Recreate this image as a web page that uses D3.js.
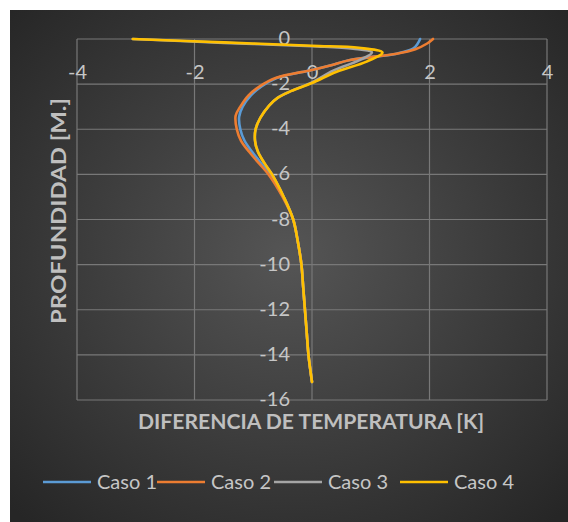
<!DOCTYPE html>
<html><head><meta charset="utf-8">
<script src="https://cdn.jsdelivr.net/npm/d3@7"></script>
<style>
html,body{margin:0;padding:0;background:#fff;}
svg{display:block;}
text{font-family:Lato,"Open Sans",sans-serif;}
</style></head>
<body>
<svg id="chart" width="568" height="522"></svg>
<script>
// ---- data ----
const xTicks = [-4, -2, 0, 2, 4];
const yTicks = [0, -2, -4, -6, -8, -10, -12, -14, -16];
const seriesNames = ["Caso 1", "Caso 2", "Caso 3", "Caso 4"];
const seriesColors = ["#5B9BD5", "#ED7D31", "#A5A5A5", "#FFC000"];

const depthCaso1 = [0, -0.2, -0.43, -0.65, -0.93, -1.17, -1.37, -1.73, -2.1, -2.5, -3.0, -3.45, -4.0, -4.5, -5.0, -5.4, -6.0, -7.0, -8.0, -9.0, -10, -11, -12, -13, -14, -15.2];
const tempCaso1  = [1.84, 1.8, 1.72, 1.44, 0.65, 0.31, 0.0, -0.6, -0.86, -1.04, -1.18, -1.24, -1.22, -1.15, -1.02, -0.9, -0.72, -0.49, -0.32, -0.24, -0.18, -0.15, -0.12, -0.09, -0.06, 0.0];

const depthCaso2 = [0, -0.2, -0.45, -0.65, -0.93, -1.17, -1.37, -1.73, -2.1, -2.5, -3.0, -3.4, -4.0, -4.5, -5.0, -5.4, -6.0, -7.0, -8.0, -9.0, -10, -11, -12, -13, -14, -15.2];
const tempCaso2  = [2.06, 1.96, 1.76, 1.44, 0.65, 0.31, 0.0, -0.62, -0.89, -1.08, -1.22, -1.3, -1.28, -1.21, -1.07, -0.94, -0.74, -0.5, -0.32, -0.24, -0.18, -0.15, -0.12, -0.09, -0.06, 0.0];

const depthCaso3 = [0, -0.17, -0.32, -0.43, -0.6, -0.95, -1.4, -1.92, -2.3, -2.6, -2.95, -3.5, -4.0, -4.5, -5.0, -5.5, -6.0, -7.0, -8.0, -9.0, -10, -11, -12, -13, -14, -15.2];
const tempCaso3  = [-3.05, -1.5, 0.0, 0.7, 1.02, 0.8, 0.36, 0.0, -0.35, -0.58, -0.73, -0.88, -0.96, -0.97, -0.92, -0.81, -0.68, -0.48, -0.32, -0.24, -0.18, -0.15, -0.12, -0.09, -0.06, 0.0];

const depthCaso4 = [0, -0.15, -0.3, -0.39, -0.6, -1.0, -1.45, -1.95, -2.3, -2.6, -2.95, -3.5, -4.0, -4.5, -5.0, -5.5, -6.0, -7.0, -8.0, -9.0, -10, -11, -12, -13, -14, -15.2];
const tempCaso4  = [-3.05, -1.5, 0.0, 0.8, 1.2, 0.93, 0.42, 0.0, -0.35, -0.58, -0.73, -0.88, -0.96, -0.97, -0.92, -0.81, -0.68, -0.48, -0.32, -0.24, -0.18, -0.15, -0.12, -0.09, -0.06, 0.0];

const depths = [depthCaso1, depthCaso2, depthCaso3, depthCaso4];
const temps = [tempCaso1, tempCaso2, tempCaso3, tempCaso4];

// ---- chart ----
const svg = d3.select("#chart");
const defs = svg.append("defs");
const grad = defs.append("radialGradient").attr("id", "bg")
  .attr("cx", "50%").attr("cy", "48%").attr("r", "70%");
grad.append("stop").attr("offset", "0%").attr("stop-color", "#555555");
grad.append("stop").attr("offset", "100%").attr("stop-color", "#262626");

svg.append("rect").attr("x", 10).attr("y", 10).attr("width", 558).attr("height", 512)
  .attr("fill", "url(#bg)");

const x = d3.scaleLinear().domain([-4, 4]).range([77, 547]);
const y = d3.scaleLinear().domain([0, -16]).range([39, 400]);

const grid = svg.append("g");
grid.selectAll("line.v").data(xTicks).join("line")
  .attr("x1", d => x(d)).attr("x2", d => x(d))
  .attr("y1", y(0)).attr("y2", y(-16))
  .attr("stroke", "#787878").attr("stroke-width", 1.2);
grid.selectAll("line.h").data(yTicks).join("line")
  .attr("x1", x(-4)).attr("x2", x(4))
  .attr("y1", d => y(d)).attr("y2", d => y(d))
  .attr("stroke", "#787878").attr("stroke-width", 1.2);

// axes (labels only)
const xAxis = svg.append("g").attr("transform", `translate(0,${y(0)})`)
  .call(d3.axisBottom(x).tickValues(xTicks).tickFormat(d => String(d)).tickSize(0));
xAxis.select(".domain").remove();
xAxis.selectAll("text").attr("y", 33).attr("dy", "0.35em")
  .attr("fill", "#c6c6c6").style("font-size", "20px").style("font-family", "Lato");

const yAxis = svg.append("g").attr("transform", `translate(${x(0)},0)`)
  .call(d3.axisLeft(y).tickValues(yTicks).tickFormat(d => String(d)).tickSize(0));
yAxis.select(".domain").remove();
yAxis.selectAll("text").attr("x", -22).attr("y", -1.5).attr("dy", "0.35em")
  .attr("fill", "#c6c6c6").style("font-size", "20px").style("font-family", "Lato");

// lines
const line = d3.line().x(d => x(d[0])).y(d => y(d[1])).curve(d3.curveCatmullRom.alpha(0.5));
const lines = svg.append("g");
seriesNames.forEach((name, i) => {
  const pts = temps[i].map((t, j) => [t, depths[i][j]]);
  lines.append("path").datum(pts).attr("d", line)
    .attr("fill", "none").attr("stroke", seriesColors[i])
    .attr("stroke-width", 2.6).attr("stroke-linejoin", "round").attr("stroke-linecap", "round");
});

// axis titles
svg.append("text").attr("x", 311).attr("y", 422).attr("dy", "0.35em")
  .attr("text-anchor", "middle").attr("fill", "#bfbfbf")
  .attr("textLength", 346).attr("lengthAdjust", "spacingAndGlyphs")
  .style("font-size", "21px").style("font-weight", "bold")
  .text("DIFERENCIA DE TEMPERATURA [K]");
svg.append("text").attr("transform", "translate(59,211) rotate(-90)")
  .attr("dy", "0.35em").attr("text-anchor", "middle").attr("fill", "#bfbfbf")
  .attr("textLength", 226).attr("lengthAdjust", "spacingAndGlyphs")
  .style("font-size", "21px").style("font-weight", "bold")
  .text("PROFUNDIDAD [M.]");

// legend
const legX = [43, 157, 274, 400];
const leg = svg.append("g");
seriesNames.forEach((name, i) => {
  leg.append("line").attr("x1", legX[i]).attr("x2", legX[i] + 48)
    .attr("y1", 482).attr("y2", 482)
    .attr("stroke", seriesColors[i]).attr("stroke-width", 2.6);
  leg.append("text").attr("x", legX[i] + 54).attr("y", 482).attr("dy", "0.35em")
    .attr("fill", "#c6c6c6").style("font-size", "20px").text(name);
});
</script>
</body></html>
